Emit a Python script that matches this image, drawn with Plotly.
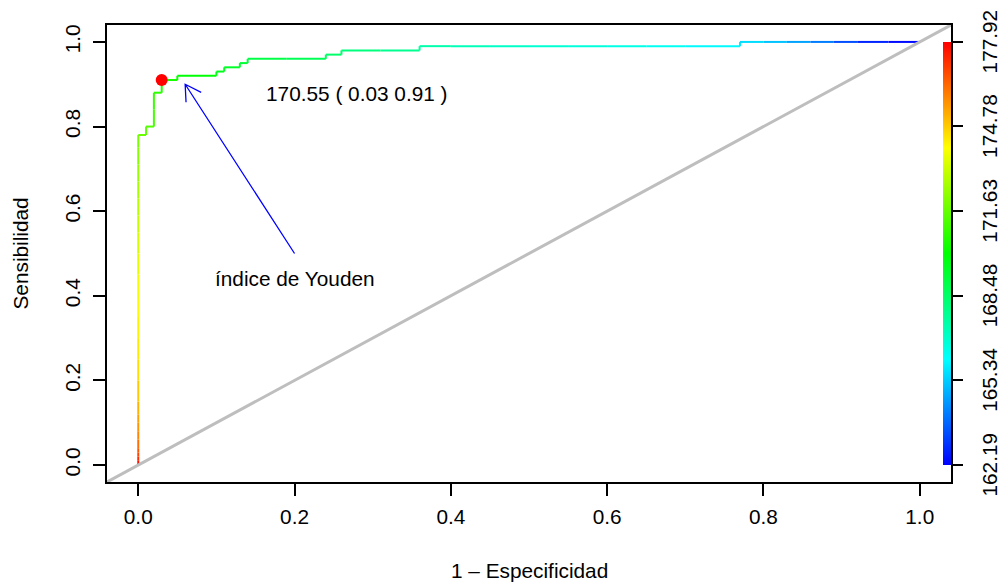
import math
import plotly.graph_objects as go
from plotly.colors import sample_colorscale

# ---------------- data ----------------
fpr = [0.00, 0.00, 0.00, 0.00, 0.00, 0.00, 0.00, 0.00, 0.00, 0.00,
       0.00, 0.00, 0.00, 0.00, 0.00, 0.00, 0.00, 0.00, 0.00, 0.00,
       0.00, 0.00, 0.00, 0.00,
       0.01, 0.01, 0.02, 0.02, 0.02, 0.03, 0.03,
       0.05, 0.05, 0.10, 0.10, 0.11, 0.11, 0.13, 0.13, 0.14, 0.14,
       0.19, 0.24, 0.24, 0.26, 0.26, 0.31, 0.36, 0.36,
       0.40, 0.45, 0.50, 0.55, 0.60, 0.65, 0.70, 0.77, 0.77,
       0.80, 0.83, 0.86, 0.89, 0.92, 0.96, 1.00]
tpr = [0.00, 0.01, 0.02, 0.03, 0.04, 0.06, 0.08, 0.10, 0.12, 0.15,
       0.20, 0.25, 0.30, 0.35, 0.39, 0.45, 0.50, 0.55, 0.59, 0.63,
       0.67, 0.71, 0.75, 0.78,
       0.78, 0.80, 0.80, 0.84, 0.88, 0.88, 0.91,
       0.91, 0.92, 0.92, 0.93, 0.93, 0.94, 0.94, 0.95, 0.95, 0.96,
       0.96, 0.96, 0.97, 0.97, 0.98, 0.98, 0.98, 0.99,
       0.99, 0.99, 0.99, 0.99, 0.99, 0.99, 0.99, 0.99, 1.00,
       1.00, 1.00, 1.00, 1.00, 1.00, 1.00, 1.00]
cutoff = [177.92, 177.50, 177.00, 176.70, 176.40, 176.00, 175.70, 175.50, 175.30, 175.00,
          174.60, 174.40, 174.20, 174.10, 174.00, 173.70, 173.50, 173.20, 173.00, 172.80,
          172.50, 172.30, 172.00, 171.80,
          171.60, 171.40, 171.20, 171.00, 170.80, 170.65, 170.55,
          170.30, 170.20, 169.80, 169.70, 169.60, 169.50, 169.40, 169.30, 169.20, 169.10,
          168.85, 168.60, 168.50, 168.40, 168.30, 168.00, 167.70, 167.50,
          167.30, 167.10, 166.90, 166.70, 166.60, 166.40, 166.20, 165.90, 165.80,
          165.40, 165.00, 164.40, 163.80, 163.00, 162.50, 162.19]

cut_min, cut_max = 162.19, 177.92
cbar_labels = ["162.19", "165.34", "168.48", "171.63", "174.78", "177.92"]
axis_ticks = [0.0, 0.2, 0.4, 0.6, 0.8, 1.0]

youden_fpr, youden_tpr, youden_cut = 0.03, 0.91, 170.55
youden_label = "170.55 ( 0.03 0.91 )"
youden_label_pos = (0.28, 0.877)
arrow_tail = (0.20, 0.50)
arrow_head = (0.06, 0.90)
arrow_label = "índice de Youden"
arrow_label_pos = (0.20, 0.441)

x_title = "1 – Especificidad"
y_title = "Sensibilidad"

# ---------------- layout geometry ----------------
W, H = 1003, 583
M_L, M_R, M_T, M_B = 107, 52, 25, 101
PW, PH = W - M_L - M_R, H - M_T - M_B
x_range = [-0.04, 1.04]
y_range = [-0.04, 1.04]
FONT = "Liberation Sans, Arial, Helvetica, sans-serif"
FS = 20.8

RAINBOW = [[0.0, "#0000FF"], [0.25, "#00FFFF"], [0.5, "#00FF00"],
           [0.75, "#FFFF00"], [1.0, "#FF0000"]]


def cut_color(c):
    v = (c - cut_min) / (cut_max - cut_min)
    v = min(1.0, max(0.0, v))
    return sample_colorscale(RAINBOW, [v])[0]


fig = go.Figure()

# colorized ROC curve, one segment per pair of consecutive points
for i in range(len(fpr) - 1):
    col = cut_color((cutoff[i] + cutoff[i + 1]) / 2)
    fig.add_trace(go.Scatter(
        x=[fpr[i], fpr[i + 1]], y=[tpr[i], tpr[i + 1]],
        mode="lines", line=dict(color=col, width=2),
        showlegend=False, hoverinfo="skip"))

# diagonal (abline 0,1) across the whole plot region
fig.add_trace(go.Scatter(
    x=x_range, y=y_range, mode="lines",
    line=dict(color="#BEBEBE", width=3),
    showlegend=False, hoverinfo="skip"))

# Youden point
fig.add_trace(go.Scatter(
    x=[youden_fpr], y=[youden_tpr], mode="markers",
    marker=dict(color="#FF0000", size=12),
    showlegend=False, hoverinfo="skip"))

# colour bar
cbar_vals = [float(s) for s in cbar_labels]
fig.add_trace(go.Scatter(
    x=[None], y=[None], mode="markers", showlegend=False, hoverinfo="skip",
    marker=dict(color=[cut_min, cut_max], cmin=cut_min, cmax=cut_max,
                colorscale=RAINBOW, showscale=True,
                colorbar=dict(
                    thickness=8, thicknessmode="pixels",
                    len=1.0 / (y_range[1] - y_range[0]), lenmode="fraction",
                    x=(943 - M_L) / PW, xanchor="left", xref="paper", xpad=0,
                    y=(0.5 - y_range[0]) / (y_range[1] - y_range[0]),
                    yanchor="middle", yref="paper", ypad=0,
                    outlinewidth=0, bgcolor="rgba(0,0,0,0)",
                    tickmode="array", tickvals=cbar_vals,
                    ticks="outside", ticklen=12, tickwidth=1.5,
                    tickcolor="black", showticklabels=False))))

# arrow (shaft + open head) built in pixel space then mapped back to data
sx = PW / (x_range[1] - x_range[0])
sy = PH / (y_range[1] - y_range[0])
dxp = (arrow_head[0] - arrow_tail[0]) * sx
dyp = (arrow_head[1] - arrow_tail[1]) * sy
ln = math.hypot(dxp, dyp)
ux, uy = -dxp / ln, -dyp / ln  # pointing back along the shaft
head_len, ang = 18.0, math.radians(30)
branches = []
for s in (1, -1):
    bx = ux * math.cos(s * ang) - uy * math.sin(s * ang)
    by = ux * math.sin(s * ang) + uy * math.cos(s * ang)
    branches.append((arrow_head[0] + bx * head_len / sx,
                     arrow_head[1] + by * head_len / sy))
path = (f"M {arrow_tail[0]},{arrow_tail[1]} L {arrow_head[0]},{arrow_head[1]} "
        f"M {branches[0][0]},{branches[0][1]} L {arrow_head[0]},{arrow_head[1]} "
        f"L {branches[1][0]},{branches[1][1]}")
fig.add_shape(type="path", path=path, xref="x", yref="y",
              line=dict(color="#0000FF", width=1.3), layer="above")

annotations = [
    dict(x=youden_label_pos[0], y=youden_label_pos[1], xref="x", yref="y",
         text=youden_label, showarrow=False, xanchor="center", yanchor="middle",
         font=dict(size=FS, color="black", family=FONT)),
    dict(x=arrow_label_pos[0], y=arrow_label_pos[1], xref="x", yref="y",
         text=arrow_label, showarrow=False, xanchor="center", yanchor="middle",
         font=dict(size=FS, color="black", family=FONT)),
    dict(x=0.5, y=(M_T + PH - 570) / PH, xref="paper", yref="paper",
         text=x_title, showarrow=False, xanchor="center", yanchor="middle",
         font=dict(size=FS, color="black", family=FONT)),
    dict(x=(20 - M_L) / PW, y=0.5, xref="paper", yref="paper",
         text=y_title, showarrow=False, xanchor="center", yanchor="middle",
         textangle=-90, font=dict(size=FS, color="black", family=FONT)),
]
for lab, val in zip(cbar_labels, cbar_vals):
    annotations.append(dict(
        x=(989.5 - M_L) / PW, y=(val - cut_min) / (cut_max - cut_min),
        xref="paper", yref="y", text=lab, showarrow=False,
        xanchor="center", yanchor="middle", textangle=-90,
        font=dict(size=FS, color="black", family=FONT)))

axis_common = dict(
    tickmode="array", tickvals=axis_ticks,
    ticktext=[f"{t:.1f}" for t in axis_ticks],
    ticks="outside", ticklen=12, tickwidth=1.5, tickcolor="black",
    showgrid=False, zeroline=False,
    showline=True, mirror=True, linecolor="black", linewidth=1.5,
    tickfont=dict(size=FS, color="black", family=FONT),
)

fig.update_layout(
    width=W, height=H,
    margin=dict(l=M_L, r=M_R, t=M_T, b=M_B, autoexpand=False),
    paper_bgcolor="white", plot_bgcolor="white",
    xaxis=dict(range=x_range, ticklabelstandoff=3, **axis_common),
    yaxis=dict(range=y_range, tickangle=-90, ticklabelstandoff=5, **axis_common),
    annotations=annotations,
    font=dict(family=FONT, size=FS, color="black"),
)

fig.write_html("out.html")
